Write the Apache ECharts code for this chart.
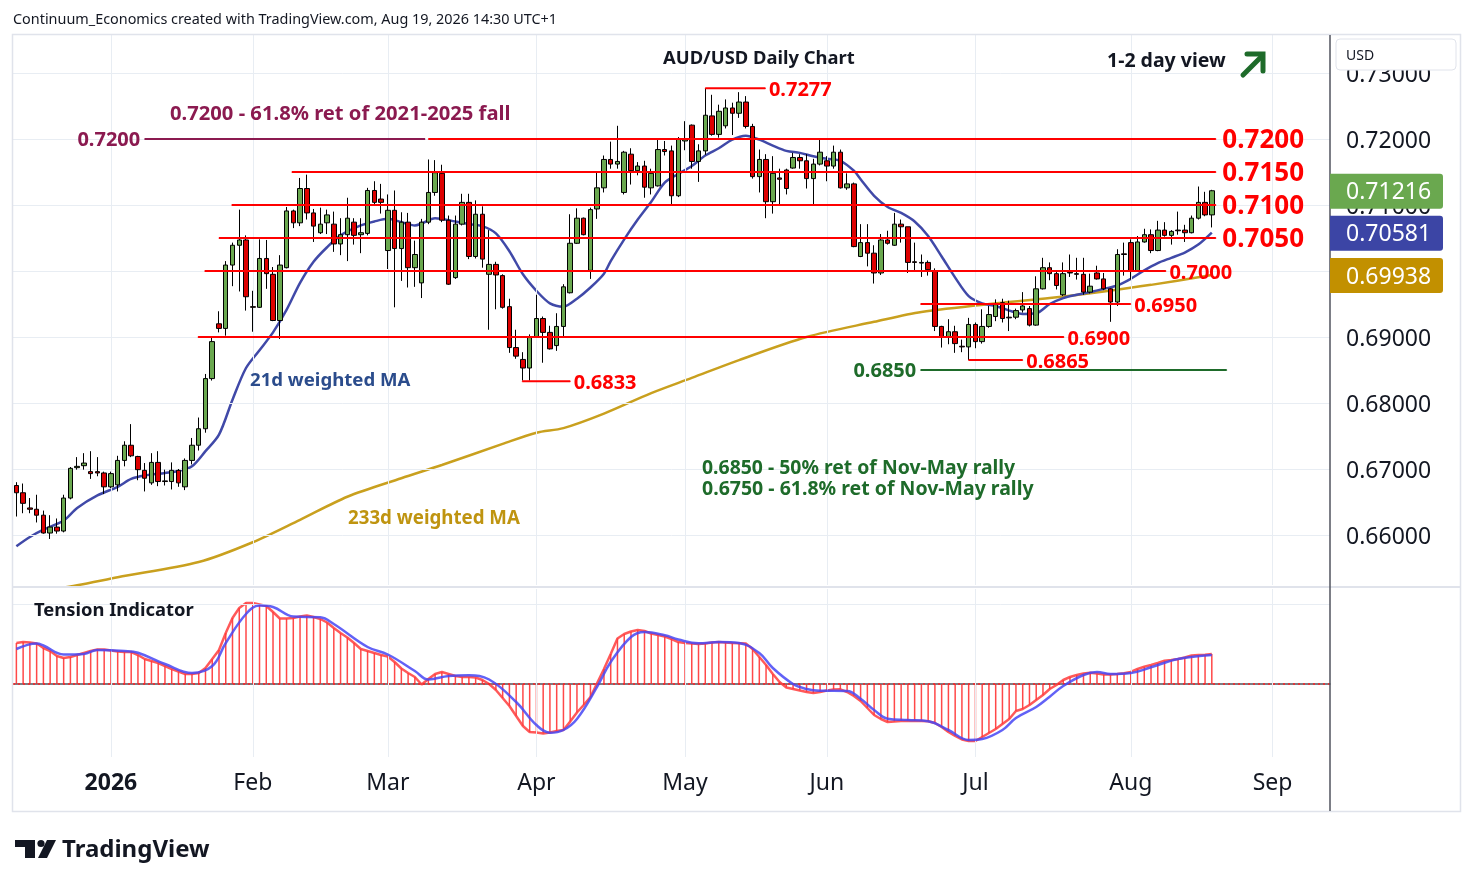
<!DOCTYPE html>
<html><head><meta charset="utf-8">
<script src="https://cdn.jsdelivr.net/npm/echarts@6/dist/echarts.min.js"></script>
<style>html,body{margin:0;padding:0;background:#fff;}#c{width:1474px;height:887px;}</style>
</head><body><div id="c"></div>
<script>
// ---------- DATA ----------
// daily candles [open, close, low, high], 11 Dec 2025 .. 19 Aug 2026
const ohlc = [
[.6675,.6664,.6628,.6680],[.6664,.6648,.6633,.6678],[.6641,.6639,.6633,.6656],[.6639,.6630,.6619,.6661],[.6630,.6603,.6602,.6637],
[.6603,.6612,.6594,.6630],[.6612,.6606,.6602,.6625],[.6606,.6656,.6604,.6661],[.6656,.6701,.6654,.6703],[.6702,.6704,.6699,.6718],
[.6705,.6709,.6699,.6724],[.6696,.6693,.6685,.6727],[.6696,.6694,.6689,.6718],[.6694,.6673,.6662,.6696],[.6673,.6693,.6671,.6696],
[.6676,.6713,.6666,.6720],[.6713,.6736,.6704,.6742],[.6736,.6720,.6718,.6768],[.6719,.6699,.6683,.6720],[.6698,.6686,.6666,.6709],
[.6679,.6710,.6676,.6724],[.6710,.6681,.6674,.6727],[.6682,.6681,.6675,.6699],[.6681,.6698,.6669,.6710],[.6698,.6679,.6673,.6700],
[.6673,.6713,.6668,.6716],[.6713,.6736,.6707,.6747],[.6736,.6761,.6728,.6778],[.6761,.6837,.6755,.6844],[.6837,.6893,.6834,.6899],
[.6920,.6913,.6907,.6939],[.6913,.7009,.6902,.7015],[.7009,.7039,.6977,.7043],[.7039,.7047,.6969,.7093],[.7047,.6961,.6940,.7054],
[.6946,.6945,.6908,.6970],[.6945,.7019,.6944,.7048],[.7019,.6996,.6973,.7047],[.6995,.6925,.6924,.7006],[.6925,.7009,.6897,.7024],
[.7005,.7091,.7004,.7097],[.7091,.7073,.7065,.7093],[.7073,.7125,.7068,.7141],[.7125,.7088,.7078,.7146],[.7088,.7068,.7044,.7094],
[.7058,.7071,.7056,.7096],[.7073,.7085,.7056,.7093],[.7071,.7041,.7029,.7090],[.7041,.7055,.7024,.7080],[.7055,.7080,.7015,.7111],
[.7074,.7054,.7040,.7080],[.7055,.7058,.7027,.7080],[.7057,.7122,.7054,.7126],[.7122,.7104,.7099,.7136],[.7109,.7104,.7087,.7132],
[.7031,.7092,.7003,.7116],[.7092,.7034,.6945,.7122],[.7034,.7074,.6985,.7089],[.7074,.7005,.6975,.7088],[.7005,.7025,.6976,.7046],
[.6982,.7074,.6959,.7079],[.7074,.7119,.7071,.7169],[.7119,.7149,.7114,.7168],[.7148,.7077,.7074,.7161],[.7077,.6980,.6979,.7084],
[.6990,.7071,.6988,.7084],[.7071,.7104,.7069,.7117],[.7104,.7022,.7018,.7117],[.7022,.7086,.7019,.7107],[.7086,.7018,.7005,.7098],
[.6995,.7010,.6911,.7062],[.7010,.6994,.6942,.7014],[.6993,.6945,.6943,.6995],[.6946,.6884,.6876,.6958],[.6884,.6871,.6867,.6911],
[.6866,.6853,.6834,.6877],[.6853,.6900,.6834,.6904],[.6900,.6928,.6899,.6964],[.6928,.6907,.6861,.6931],[.6907,.6882,.6881,.6917],
[.6887,.6916,.6879,.6936],[.6916,.6976,.6899,.6980],[.6967,.7042,.6966,.7086],[.7042,.7080,.7041,.7095],[.7080,.7055,.7054,.7081],
[.7001,.7093,.6988,.7096],[.7094,.7126,.7079,.7149],[.7126,.7169,.7119,.7175],[.7169,.7162,.7155,.7196],[.7162,.7166,.7155,.7220],
[.7119,.7180,.7116,.7182],[.7177,.7152,.7131,.7186],[.7152,.7159,.7145,.7165],[.7159,.7127,.7111,.7167],[.7126,.7148,.7116,.7155],
[.7129,.7184,.7128,.7199],[.7184,.7181,.7175,.7197],[.7182,.7114,.7101,.7190],[.7114,.7200,.7112,.7203],[.7197,.7200,.7183,.7227],
[.7221,.7166,.7155,.7222],[.7166,.7182,.7135,.7192],[.7182,.7236,.7176,.7277],[.7235,.7207,.7205,.7267],[.7207,.7242,.7202,.7252],
[.7220,.7247,.7216,.7260],[.7247,.7239,.7206,.7255],[.7239,.7256,.7232,.7271],[.7256,.7219,.7216,.7265],[.7219,.7143,.7140,.7223],
[.7143,.7169,.7119,.7184],[.7169,.7105,.7080,.7177],[.7105,.7148,.7087,.7174],[.7141,.7139,.7101,.7155],[.7153,.7125,.7116,.7155],
[.7156,.7172,.7155,.7179],[.7172,.7167,.7155,.7177],[.7167,.7140,.7125,.7177],[.7140,.7162,.7101,.7170],[.7162,.7180,.7160,.7199],
[.7167,.7159,.7136,.7174],[.7159,.7180,.7155,.7190],[.7180,.7126,.7125,.7184],[.7126,.7132,.7123,.7148],[.7132,.7037,.7036,.7134],
[.7022,.7043,.7021,.7071],[.7043,.7027,.7007,.7071],[.7027,.6997,.6981,.7039],[.6997,.7047,.6994,.7056],[.7047,.7042,.7040,.7061],
[.7039,.7071,.7038,.7088],[.7071,.7067,.7043,.7078],[.7067,.7013,.6997,.7067],[.7014,.7013,.6999,.7043],[.7013,.7012,.6991,.7025],
[.7013,.7002,.6993,.7016],[.7000,.6916,.6909,.7004],[.6916,.6900,.6884,.6917],[.6900,.6908,.6889,.6927],[.6908,.6890,.6876,.6917],
[.6886,.6885,.6877,.6896],[.6885,.6919,.6865,.6929],[.6919,.6893,.6883,.6922],[.6893,.6916,.6890,.6942],[.6916,.6934,.6914,.6947],
[.6931,.6949,.6924,.6957],[.6952,.6928,.6922,.6958],[.6930,.6929,.6909,.6955],[.6930,.6940,.6927,.6943],[.6941,.6947,.6937,.6968],
[.6943,.6918,.6916,.6947],[.6918,.6973,.6917,.6992],[.6973,.7005,.6972,.7020],[.7005,.6996,.6986,.7013],[.6996,.6978,.6972,.6999],
[.6964,.6996,.6962,.7013],[.6998,.6997,.6991,.7025],[.6996,.6995,.6987,.7020],[.6995,.6968,.6964,.7020],[.6968,.6977,.6966,.6996],
[.6997,.6988,.6987,.7008],[.6988,.6973,.6971,.6997],[.6973,.6953,.6923,.6974],[.6953,.7025,.6947,.7033],[.7026,.7025,.6993,.7043],
[.7043,.7000,.6987,.7048],[.7000,.7044,.6999,.7053],[.7044,.7055,.7043,.7064],[.7055,.7031,.7027,.7063],[.7031,.7062,.7030,.7076],
[.7062,.7054,.7052,.7074],[.7054,.7060,.7040,.7062],[.7062,.7061,.7055,.7090],[.7062,.7058,.7044,.7070],[.7058,.7080,.7057,.7084],
[.7080,.7104,.7078,.7128],[.7104,.7085,.7083,.7120],[.7085,.71216,.7066,.7123]
];
// 21d weighted MA [bar index, value]
const wma21Pts = [[0,.6583],[2,.6597],[4,.6608],[7,.6622],[9,.6641],[12,.6660],[15,.6673],[17,.6685],[19,.6690],[22,.6694],[24,.6697],[26,.6704],[28,.6727],[30,.6752],[32,.6805],[34,.6853],[36,.6880],[38,.6907],[40,.6941],[42,.6982],[44,.7014],[46,.7036],[48,.7054],[51,.7069],[53,.7075],[55,.7079],[57,.7074],[59,.7069],[60,.7072],[62,.7080],[65,.7075],[67,.7071],[69,.7068],[71,.7057],[73,.7030],[75,.6995],[77,.6970],[79,.6951],[81,.6946],[83,.6958],[85,.6975],[87,.6996],[88,.7015],[90,.7048],[92,.7078],[94,.7105],[96,.7134],[98,.7147],[100,.7159],[102,.7175],[104,.7186],[106,.7199],[108,.7205],[110,.7199],[112,.7190],[114,.7182],[116,.7179],[118,.7174],[120,.7170],[122,.7167],[124,.7152],[125,.7139],[127,.7114],[129,.7097],[131,.7088],[133,.7075],[135,.7053],[137,.7022],[139,.6990],[141,.6962],[143,.6951],[145,.6947],[147,.6940],[149,.6935],[151,.6936],[153,.6950],[155,.6959],[157,.6964],[159,.6968],[161,.6973],[163,.6978],[165,.6988],[167,.7001],[169,.7012],[171,.7020],[173,.7028],[175,.7040],[177,.70581]];
// 233d weighted MA
const wma233Pts = [[0,.6509],[9,.6524],[15,.6536],[27,.6559],[35,.6589],[42,.6623],[49,.6658],[57,.6686],[63,.6706],[72,.6738],[77,.6755],[81,.6762],[87,.6784],[94,.6815],[100,.6838],[107,.6865],[117,.6900],[127,.6923],[134,.6938],[146,.6952],[153,.6959],[161,.6969],[168,.6979],[177,.69938]];
// Tension indicator (red, one per bar) and its signal (blue)
const tensionRed = [41,42,41.5,40.5,36,33,28,26,27,29, 31,33,34.5,34.5,33.5,32.5,32,32,29,25, 23,21,18,15,12.5,10,10,11,16,25,
 34,51,66,76,81,81,79.5,78,72,65.5, 65.5,66,67.5,68.5,67,65,61.5,56,51,46.5, 41,35,33,31,29,27.5,22,15.5,11,7,
 -0.5,5,10,12,10,8,7,7,6.5,4, 0,-6,-14,-22,-32,-42,-48,-48.5,-49.5,-48.5, -47,-46,-37.6,-28.5,-21,-13,1,15,30,45.5,
 50,52.5,54,53,50.5,49,47.5,45,42,41, 40.5,40,40.5,41.5,42,41.5,41,40.8,40.5,35, 27,19,10,2,-3.5,-5,-6.5,-8,-9,-8,
 -6.5,-5.5,-5.3,-8,-12,-17,-24,-31,-35,-38, -37.5,-37,-36.7,-37,-37,-37.3,-39,-43,-48,-52, -55.5,-57,-57,-53,-49,-45,-40,-35,-27,-25,
 -21,-16,-11,-5,-1,4,7,9,10.5,11.3, 10.5,9.5,9.5,10,10.7,12,15,17.3,19,21, 23.3,24,25,26.5,28.5,29,29.3,30];
const tensionBluePts = [[0,35],[3,40.5],[4,38.5],[7,29.5],[10,30],[12,34],[16,33],[18,31.3],[22,20],[26,11],[29,18],[31,41],[34,70],[36,78.5],[38,77],[41,67.5],[45,66.7],[47,60],[52,37],[55,29.5],[59,13],[61,4.5],[64,8],[67,8.7],[70,4.5],[74,-18],[77,-41],[79,-48.7],[81,-46],[83,-35],[86,-2.7],[88,22],[91,47],[93,52],[96,48.7],[98,44.5],[101,40.7],[104,42],[107,41],[110,31],[112,16],[115,0],[117,-5],[119,-6.7],[123,-7],[125,-14.7],[127,-26],[129,-34.7],[132,-36],[135,-37.3],[138,-46],[141,-56],[143,-55],[146,-46],[148,-34],[151,-23],[153,-12.7],[155,-2],[158,9],[160,12],[162,10],[165,11],[168,16.7],[172,25],[177,29]];
// horizontal levels (price, from bar, to bar)
const levelPrice = [0.7277, 0.7200, 0.7150, 0.7100, 0.7050, 0.7000, 0.6950, 0.6900, 0.6865, 0.6833];
const levelText  = ['0.7277','0.7200','0.7150','0.7100','0.7050','0.7000','0.6950','0.6900','0.6865','0.6833'];
const levelFrom  = [102.0, 61.0, 40.8, 31.9, 30.0, 27.9, 133.9, 26.9, 141.0, 74.9];
const levelTo    = [110.9, 177.6, 177.6, 177.6, 177.6, 170.2, 165.0, 155.1, 149.0, 82.0];
const levelBig   = [false, true, true, true, true, false, false, false, false, false];
const fibPrice = [0.7200, 0.6850];
const fibText  = ['0.7200', '0.6850'];
const fibFrom  = [19.0, 133.9];
const fibTo    = [60.5, 179.2];
const priceTicks = [0.66, 0.67, 0.68, 0.69, 0.70, 0.71, 0.72, 0.73];
const lastValues = [0.71216, 0.70581, 0.69938];
const monthLabels = {'01':'2026','02':'Feb','03':'Mar','04':'Apr','05':'May','06':'Jun','07':'Jul','08':'Aug','09':'Sep'};

// trading-day categories
const dates = (() => {
  const out = []; const d = new Date(Date.UTC(2025, 11, 11)); const end = Date.UTC(2026, 8, 11);
  const skip = new Set(['2025-12-25', '2026-01-01']);
  while (d.getTime() <= end) {
    const wd = d.getUTCDay(); const s = d.toISOString().slice(0, 10);
    if (wd !== 0 && wd !== 6 && !skip.has(s)) out.push(s);
    d.setUTCDate(d.getUTCDate() + 1);
  }
  return out;
})();
const monthStart = new Set();
dates.forEach((s, i) => { if (i > 0 && s.slice(5, 7) !== dates[i - 1].slice(5, 7)) monthStart.add(i); });

// ---------- CHART ----------
const FF = "'Noto Sans', sans-serif";
const chart = echarts.init(document.getElementById('c'));
const GRID_C = '#E8EDF3';
const vLines = [...monthStart].map(i => ({ xAxis: dates[i] }));

const series = [];
// gridlines + right axis labels
series.push({
  type: 'line', xAxisIndex: 0, yAxisIndex: 0, data: [], z: 1, silent: true,
  markLine: {
    silent: true, symbol: ['none', 'none'], animation: false,
    lineStyle: { color: GRID_C, width: 1, type: 'solid' },
    label: { show: false },
    data: priceTicks.map(v => ({ yAxis: v, label: { show: true, position: 'end', distance: 16, offset: [0, 2], formatter: v.toFixed(5), color: '#131722', fontSize: 23, fontFamily: FF } }))
      .concat(vLines.map(o => ({ xAxis: o.xAxis, label: { show: false } })))
  }
});
series.push({
  type: 'candlestick', xAxisIndex: 0, yAxisIndex: 0, data: ohlc, barWidth: 5, z: 5,
  itemStyle: { color: '#6AA84F', color0: '#DD0000', borderColor: '#000', borderColor0: '#000', borderWidth: 1 }
});
series.push({ type: 'line', xAxisIndex: 0, yAxisIndex: 0, data: wma233Pts, smooth: 0.3, symbol: 'none', z: 4,
  lineStyle: { color: '#C9A01E', width: 2.5 } });
series.push({ type: 'line', xAxisIndex: 0, yAxisIndex: 0, data: wma21Pts, smooth: 0.3, symbol: 'none', z: 4,
  lineStyle: { color: '#4049A8', width: 2.5 } });

levelPrice.forEach((p, k) => {
  series.push({
    type: 'line', xAxisIndex: 1, yAxisIndex: 0, z: 6, symbol: 'circle', symbolSize: 1, showSymbol: true, silent: true,
    lineStyle: { color: '#FF0000', width: 2 }, itemStyle: { color: '#FF0000' },
    data: [
      { value: [levelFrom[k], p] },
      { value: [levelTo[k], p], label: { show: true, position: 'right', distance: levelBig[k] ? 6 : 3, offset: [0, 2], formatter: levelText[k],
        color: '#FF0000', fontSize: levelBig[k] ? 26 : 20, fontWeight: 'bold', fontFamily: FF } }
    ]
  });
});
const fibColor = ['#8B1A50', '#1E6B2A'];
fibPrice.forEach((p, k) => {
  series.push({
    type: 'line', xAxisIndex: 1, yAxisIndex: 0, z: 6, symbol: 'circle', symbolSize: 1, showSymbol: true, silent: true,
    lineStyle: { color: fibColor[k], width: 2 }, itemStyle: { color: fibColor[k] },
    data: [
      { value: [fibFrom[k], p], label: { show: true, position: 'left', distance: 4, offset: [0, 1], formatter: fibText[k],
        color: fibColor[k], fontSize: 20, fontWeight: 'bold', fontFamily: FF } },
      { value: [fibTo[k], p] }
    ]
  });
});
// tension pane
series.push({
  type: 'bar', xAxisIndex: 2, yAxisIndex: 1, data: tensionRed, barWidth: 1.5, z: 3, silent: true,
  itemStyle: { color: 'rgba(255,40,40,0.85)' },
  markLine: {
    silent: true, symbol: ['none', 'none'], animation: false, label: { show: false },
    data: [
      { yAxis: 0, lineStyle: { color: '#FF2020', width: 1.5, type: [2, 3] } },
      { yAxis: 80, lineStyle: { color: GRID_C, width: 1, type: 'solid' } }
    ].concat(vLines.map(o => ({ xAxis: o.xAxis, lineStyle: { color: GRID_C, width: 1, type: 'solid' } })))
  }
});
series.push({ type: 'line', xAxisIndex: 2, yAxisIndex: 1, data: tensionRed, symbol: 'none', z: 4,
  lineStyle: { color: 'rgba(255,60,60,0.85)', width: 2.5 } });
series.push({ type: 'line', xAxisIndex: 2, yAxisIndex: 1, data: tensionBluePts, smooth: 0.4, symbol: 'none', z: 5,
  lineStyle: { color: 'rgba(70,70,245,0.85)', width: 2.5 } });

chart.setOption({
  animation: false,
  backgroundColor: '#ffffff',
  grid: [
    { left: 13, top: 35, width: 1317, height: 550 },
    { left: 13, top: 589, width: 1317, height: 168 }
  ],
  xAxis: [
    { type: 'category', gridIndex: 0, data: dates, show: false, boundaryGap: true },
    { type: 'value', gridIndex: 0, min: -0.5, max: 194.5, show: false },
    { type: 'category', gridIndex: 1, data: dates, boundaryGap: true,
      axisLine: { show: true, lineStyle: { color: '#50535E', width: 1.5 } },
      axisTick: { show: false }, splitLine: { show: false },
      axisLabel: {
        interval: (i) => monthStart.has(i), margin: 15, fontSize: 23, fontFamily: FF, color: '#131722',
        formatter: (v) => { const m = v.slice(5, 7); return m === '01' ? '{b|' + monthLabels[m] + '}' : monthLabels[m]; },
        rich: { b: { fontWeight: 'bold', fontSize: 23, fontFamily: FF, color: '#131722' } }
      } }
  ],
  yAxis: [
    { type: 'value', gridIndex: 0, min: 0.652424, max: 0.735758, show: false, scale: true },
    { type: 'value', gridIndex: 1, min: -73, max: 95, show: false }
  ],
  series: series
});

// ---------- overlay graphics ----------
const g = [];
const txt = (text, x, y, size, weight, color, extra) => g.push(Object.assign({ type: 'text', x: x, y: y, z: 100, silent: true,
  style: { text: text, fontSize: size, fontWeight: weight, fontFamily: FF, fill: color, align: 'left', verticalAlign: 'middle' } }, extra || {}));
// frame
g.push({ type: 'rect', z: 90, silent: true, shape: { x: 12.5, y: 34.5, width: 1448, height: 777 }, style: { fill: 'none', stroke: '#E0E3EB', lineWidth: 1.5 } });
g.push({ type: 'line', z: 90, silent: true, shape: { x1: 13, y1: 587, x2: 1460, y2: 587 }, style: { stroke: '#E0E3EB', lineWidth: 2 } });
g.push({ type: 'line', z: 91, silent: true, shape: { x1: 1330, y1: 35, x2: 1330, y2: 811 }, style: { stroke: '#50535E', lineWidth: 1.5 } });
// price tags
const tagColor = ['#6AA84F', '#3C45A5', '#C29000'];
lastValues.forEach((v, k) => {
  const py = chart.convertToPixel({ yAxisIndex: 0 }, v);
  g.push({ type: 'rect', z: 95, silent: true, shape: { x: 1330, y: py - 17, width: 113, height: 35, r: [0, 3, 3, 0] }, style: { fill: tagColor[k] } });
  txt(v.toFixed(5), 1346, py + 2, 23, 'normal', '#ffffff', { z: 96 });
});
// currency box
g.push({ type: 'rect', z: 95, silent: true, shape: { x: 1336, y: 39, width: 120, height: 31, r: 4 }, style: { fill: '#ffffff', stroke: '#E0E3EB', lineWidth: 1 } });
txt('USD', 1346, 56, 14, 'normal', '#131722', { z: 96 });
// texts
txt('Continuum_Economics created with TradingView.com, Aug 19, 2026 14:30 UTC+1', 13, 20, 14.4, 'normal', '#131722');
txt('AUD/USD Daily Chart', 663, 59, 18.4, 'bold', '#131722');
txt('1-2 day view', 1107, 61, 19.5, 'bold', '#131722');
txt('0.7200 - 61.8% ret of 2021-2025 fall', 170, 114, 20.2, 'bold', '#8B1A50');
txt('21d weighted MA', 250, 381, 18.6, 'bold', '#2B4C8C');
txt('233d weighted MA', 348, 519, 18.7, 'bold', '#BF9410');
txt('0.6850 - 50% ret of Nov-May rally', 702, 468, 19.4, 'bold', '#1E6B2A');
txt('0.6750 - 61.8% ret of Nov-May rally', 702, 489, 19.5, 'bold', '#1E6B2A');
txt('Tension Indicator', 34, 611, 18.4, 'bold', '#131722');
// arrow
g.push({ type: 'polyline', z: 100, silent: true, shape: { points: [[1243, 75], [1262, 56]] }, style: { stroke: '#1E6B2A', lineWidth: 5, lineCap: 'round' } });
g.push({ type: 'polyline', z: 100, silent: true, shape: { points: [[1247, 54], [1263, 54], [1263, 71]] }, style: { fill: 'none', stroke: '#1E6B2A', lineWidth: 5, lineJoin: 'miter', lineCap: 'round' } });
// TradingView logo
g.push({ type: 'rect', z: 100, silent: true, shape: { x: 15, y: 840, width: 20, height: 7 }, style: { fill: '#131722' } });
g.push({ type: 'rect', z: 100, silent: true, shape: { x: 25, y: 840, width: 10, height: 18 }, style: { fill: '#131722' } });
g.push({ type: 'circle', z: 100, silent: true, shape: { cx: 41, cy: 843.5, r: 3.6 }, style: { fill: '#131722' } });
g.push({ type: 'polygon', z: 100, silent: true, shape: { points: [[47, 840], [56, 840], [47, 858], [38, 858]] }, style: { fill: '#131722' } });
txt('TradingView', 62, 850, 24, 'bold', '#131722');

chart.setOption({ graphic: g });
</script>
</body></html>
